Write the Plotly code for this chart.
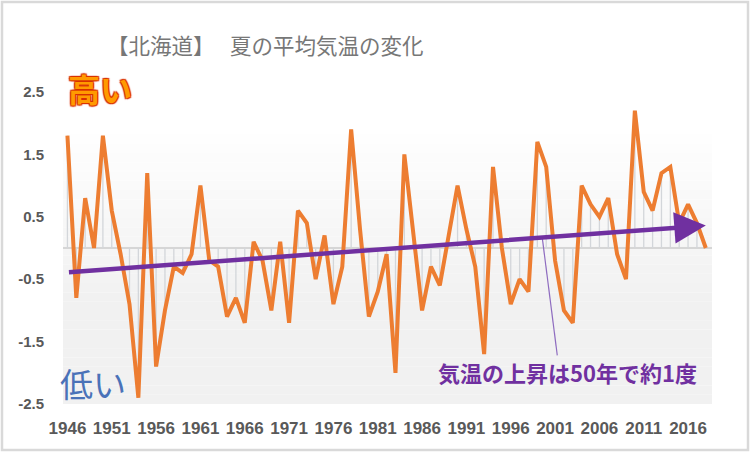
import plotly.graph_objects as go

# ---- data ----
years = list(range(1946, 2019))
anomaly = [1.8, -0.8, 0.8, 0.0, 1.8, 0.6, -0.1, -0.9, -2.4, 1.2,
           -1.9, -1.0, -0.3, -0.4, -0.1, 1.0, -0.2, -0.3, -1.1, -0.8,
           -1.2, 0.1, -0.2, -1.0, 0.1, -1.2, 0.6, 0.4, -0.5, 0.2,
           -0.9, -0.3, 1.9, 0.3, -1.1, -0.7, -0.1, -2.0, 1.5, 0.2,
           -1.0, -0.3, -0.6, 0.2, 1.0, 0.3, -0.3, -1.7, 1.3, 0.0,
           -0.9, -0.5, -0.7, 1.7, 1.3, -0.2, -1.0, -1.2, 1.0, 0.7,
           0.5, 0.8, -0.1, -0.5, 2.2, 0.9, 0.6, 1.2, 1.3, 0.4,
           0.7, 0.4, 0.0]
trend_years = [1946, 2018]
trend_values = [-0.39, 0.36]
x_tick_years = list(range(1946, 2017, 5))
x_tick_text = [str(y) for y in x_tick_years]
y_tick_vals = [-2.5, -1.5, -0.5, 0.5, 1.5, 2.5]
y_tick_text = ["-2.5", "-1.5", "-0.5", "0.5", "1.5", "2.5"]

title_text = "【北海道】　 夏の平均気温の変化"
high_text = "高い"
low_text = "低い"
note_text = "気温の上昇は50年で約1度"
note_point = (2002.4, -1.99)
leader = [(1999.55, 0.17), (2001.25, -1.72)]

# ---- layout constants (pixels) ----
W, H = 750, 452
L, R, T, B = 63, 38, 92, 48
PW, PH = W - L - R, H - T - B


def px_x(p):
    return (p - L) / PW


def px_y(p):
    return (H - B - p) / PH


fig = go.Figure()

# drop lines from zero to each value
dx, dy = [], []
for yr, v in zip(years, anomaly):
    dx += [yr, yr, None]
    dy += [0, v, None]
fig.add_trace(go.Scatter(x=dx, y=dy, mode="lines",
                         line=dict(color="#d3d6da", width=1.3),
                         hoverinfo="skip", showlegend=False))

# main series
fig.add_trace(go.Scatter(x=years, y=anomaly, mode="lines",
                         line=dict(color="#ED7D31", width=4),
                         showlegend=False, cliponaxis=False))

shapes = []
# gradient plot background
n = 30
top_px, bot_px = 125, H - B
for i in range(n):
    y0 = top_px + (bot_px - top_px) * i / n
    y1 = top_px + (bot_px - top_px) * (i + 1) / n
    t = (i + 0.5) / n
    c = int(round(255 - (255 - 241) * min(1.0, t * 1.6)))
    shapes.append(dict(type="rect", xref="paper", yref="paper",
                       x0=0, x1=1, y0=px_y(y1), y1=px_y(y0),
                       fillcolor=f"rgb({c},{c},{c})", line=dict(width=0),
                       layer="below"))
# outer border
shapes.append(dict(type="rect", xref="paper", yref="paper",
                   x0=px_x(2), x1=px_x(W - 2), y0=px_y(H - 2), y1=px_y(2),
                   line=dict(color="#d9d9d9", width=2.5), layer="below"))
# leader line
shapes.append(dict(type="line", xref="x", yref="y",
                   x0=leader[0][0], y0=leader[0][1],
                   x1=leader[1][0], y1=leader[1][1],
                   line=dict(color="#8e6cc0", width=1.2)))

annotations = [
    dict(x=trend_years[1], y=trend_values[1], ax=trend_years[0], ay=trend_values[0],
         xref="x", yref="y", axref="x", ayref="y", text="", showarrow=True,
         arrowhead=2, arrowsize=1.4, arrowwidth=4.5, arrowcolor="#7030A0"),
    dict(x=px_x(265), y=px_y(44), xref="paper", yref="paper", text=title_text,
         showarrow=False, xanchor="center", yanchor="middle",
         font=dict(family="Noto Sans CJK JP", size=21.5, color="#777777")),
    dict(x=px_x(100), y=px_y(88), xref="paper", yref="paper",
         text="<b>" + high_text + "</b>", showarrow=False,
         xanchor="center", yanchor="middle",
         font=dict(family="Noto Sans CJK JP", size=32, color="#FF9A00",
                   shadow="1px 1px 1px #d83000, -1px -1px 1px #d83000, 1px -1px 1px #d83000, -1px 1px 1px #d83000")),
    dict(x=px_x(93), y=px_y(383), xref="paper", yref="paper",
         text=low_text, showarrow=False, xanchor="center", yanchor="middle",
         font=dict(family="Noto Sans CJK JP", size=33, color="#4a72b8")),
    dict(x=note_point[0], y=note_point[1], xref="x", yref="y",
         text="<b>" + note_text + "</b>", showarrow=False,
         xanchor="center", yanchor="middle",
         font=dict(family="Noto Sans CJK JP", size=22, color="#7030A0")),
]

fig.update_layout(
    width=W, height=H,
    margin=dict(l=L, r=R, t=T, b=B, pad=0),
    paper_bgcolor="white", plot_bgcolor="rgba(0,0,0,0)",
    shapes=shapes, annotations=annotations,
    font=dict(family="Liberation Sans", color="#595959"),
)
fig.update_xaxes(range=[1945.5, 2018.7], tickvals=x_tick_years, ticktext=x_tick_text,
                 showgrid=False, zeroline=False, showline=False, ticks="",
                 tickfont=dict(family="Liberation Sans", size=17, color="#595959",
                               weight="bold"),
                 ticklabelstandoff=12)
fig.update_yaxes(range=[-2.5, 2.5], tickvals=y_tick_vals, ticktext=y_tick_text,
                 showgrid=False, zeroline=True, zerolinecolor="#d6d6d6", zerolinewidth=2,
                 showline=False, ticks="",
                 tickfont=dict(family="Liberation Sans", size=15, color="#595959",
                               weight="bold"),
                 ticklabelstandoff=18)

fig.write_html("out.html", config={"displayModeBar": False},
               post_script="document.body.style.margin='0';document.body.style.padding='0';")
